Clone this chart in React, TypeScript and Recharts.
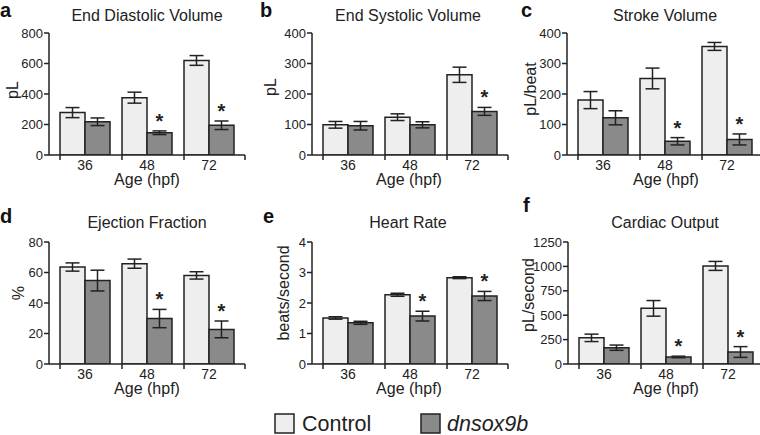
import React from 'react';
import { BarChart, Bar, XAxis, YAxis, ErrorBar, LabelList } from 'recharts';

// ---------- data ----------
const ages = ['36', '48', '72'];

const edvControl = [278, 376, 620];
const edvControlErr = [33, 36, 32];
const edvDn = [218, 146, 195];
const edvDnErr = [25, 12, 28];
const edvSig = [false, true, true];
const edvTicks = [0, 200, 400, 600, 800];

const esvControl = [99, 124, 263];
const esvControlErr = [11, 11, 25];
const esvDn = [96, 99, 143];
const esvDnErr = [14, 10, 13];
const esvSig = [false, false, true];
const esvTicks = [0, 100, 200, 300, 400];

const svControl = [180, 251, 356];
const svControlErr = [28, 34, 13];
const svDn = [122, 45, 51];
const svDnErr = [23, 12, 18];
const svSig = [false, true, true];
const svTicks = [0, 100, 200, 300, 400];

const efControl = [63.6, 65.8, 58.1];
const efControlErr = [2.7, 3, 2.4];
const efDn = [54.7, 29.8, 22.7];
const efDnErr = [6.8, 6, 5.5];
const efSig = [false, true, true];
const efTicks = [0, 20, 40, 60, 80];

const hrControl = [1.51, 2.27, 2.83];
const hrControlErr = [0.04, 0.05, 0.03];
const hrDn = [1.35, 1.57, 2.23];
const hrDnErr = [0.05, 0.16, 0.15];
const hrSig = [false, true, true];
const hrTicks = [0, 1, 2, 3, 4];

const coControl = [268, 570, 1005];
const coControlErr = [38, 80, 46];
const coDn = [167, 72, 123];
const coDnErr = [27, 8, 55];
const coSig = [false, true, true];
const coTicks = [0, 250, 500, 750, 1000, 1250];

// ---------- style constants ----------
const FONT = '"Liberation Sans", Arial, Helvetica, sans-serif';
const INK = '#222222';
const CTRL_FILL = '#eeeeee';
const DN_FILL = '#8a8a8a';
const BAR = 25;
const PAD = 5;
const PLOT_W = 196;
const CHART_H = 195;
const TOP_M = 33;
const XAXIS_H = 40;

const XTick = (props: any) => {
  const { x, y, payload, index } = props;
  const half = (PLOT_W - 2 * PAD) / ages.length / 2;
  return (
    <g>
      <line x1={x - BAR} x2={x - BAR} y1={y} y2={y + 5} stroke={INK} strokeWidth={1.5} />
      {index === ages.length - 1 && (
        <line x1={x + half + PAD} x2={x + half + PAD} y1={y} y2={y + 5} stroke={INK} strokeWidth={1.5} />
      )}
      <text x={x} y={y + 14.5} textAnchor="middle" fontSize={14} fill={INK} fontFamily={FONT}>
        {payload.value}
      </text>
    </g>
  );
};

type PanelProps = {
  left: number;
  top: number;
  yAxisWidth: number;
  ticks: number[];
  ctrl: number[];
  ctrlErr: number[];
  dn: number[];
  dnErr: number[];
  sig: boolean[];
};

function Panel(p: PanelProps) {
  const data = ages.map((age, i) => ({
    age,
    ctrl: p.ctrl[i],
    ctrlErr: p.ctrlErr[i],
    dn: p.dn[i],
    dnErr: p.dnErr[i],
  }));
  const width = p.yAxisWidth + PLOT_W + 2;

  const starContent = (props: any) => {
    const vb = props.viewBox || props;
    const x = vb.x ?? props.x;
    const y = vb.y ?? props.y;
    const w = vb.width ?? props.width;
    const hh = vb.height ?? props.height ?? 0;
    const h = Math.abs(hh);
    const i = props.index;
    if (!p.sig[i]) return null;
    const v = p.dn[i];
    const errPx = (p.dnErr[i] * h) / v;
    const top = Math.min(y, y + hh);
    return (
      <text x={x + w / 2} y={top - errPx - 3} textAnchor="middle" fontSize={20} fontWeight="bold" fill={INK} fontFamily={FONT}>
        *
      </text>
    );
  };

  return (
    <div style={{ position: 'absolute', left: p.left, top: p.top }}>
      <BarChart
        width={width}
        height={CHART_H}
        data={data}
        margin={{ top: TOP_M, right: 2, left: 0, bottom: 0 }}
        barSize={BAR}
        barGap={0}
      >
        <XAxis
          dataKey="age"
          height={XAXIS_H}
          padding={{ left: PAD, right: PAD }}
          tickLine={false}
          tickSize={0}
          tickMargin={0}
          interval={0}
          axisLine={{ stroke: INK, strokeWidth: 1.5 }}
          tick={<XTick />}
        />
        <YAxis
          width={p.yAxisWidth}
          domain={[p.ticks[0], p.ticks[p.ticks.length - 1]]}
          ticks={p.ticks}
          interval={0}
          tickSize={5}
          tickMargin={1}
          allowDataOverflow
          axisLine={{ stroke: INK, strokeWidth: 1.5 }}
          tickLine={{ stroke: INK, strokeWidth: 1.5 }}
          tick={{ fill: INK, fontSize: 13, fontFamily: FONT }}
        />
        <Bar dataKey="ctrl" fill={CTRL_FILL} stroke={INK} strokeWidth={1.5} isAnimationActive={false}>
          <ErrorBar dataKey="ctrlErr" width={7} stroke={INK} strokeWidth={1.5} isAnimationActive={false} />
        </Bar>
        <Bar dataKey="dn" fill={DN_FILL} stroke={INK} strokeWidth={1.5} isAnimationActive={false}>
          <ErrorBar dataKey="dnErr" width={7} stroke={INK} strokeWidth={1.5} isAnimationActive={false} />
          <LabelList dataKey="dn" content={starContent} />
        </Bar>
      </BarChart>
    </div>
  );
}

const YLabel = ({ x, y, text }: { x: number; y: number; text: string }) => (
  <text
    x={x}
    y={y}
    transform={`rotate(-90 ${x} ${y})`}
    textAnchor="middle"
    dominantBaseline="central"
    fontSize={16}
    fill={INK}
  >
    {text}
  </text>
);

export default function App() {
  const row1 = 0;
  const row2 = 209;
  return (
    <div
      style={{
        position: 'absolute',
        left: 0,
        top: 0,
        width: 760,
        height: 435,
        background: '#ffffff',
        fontFamily: FONT,
        overflow: 'hidden',
      }}
    >
      <Panel left={0} top={row1} yAxisWidth={49} ticks={edvTicks}
        ctrl={edvControl} ctrlErr={edvControlErr} dn={edvDn} dnErr={edvDnErr} sig={edvSig} />
      <Panel left={250} top={row1} yAxisWidth={62} ticks={esvTicks}
        ctrl={esvControl} ctrlErr={esvControlErr} dn={esvDn} dnErr={esvDnErr} sig={esvSig} />
      <Panel left={500} top={row1} yAxisWidth={67} ticks={svTicks}
        ctrl={svControl} ctrlErr={svControlErr} dn={svDn} dnErr={svDnErr} sig={svSig} />
      <Panel left={0} top={row2} yAxisWidth={49} ticks={efTicks}
        ctrl={efControl} ctrlErr={efControlErr} dn={efDn} dnErr={efDnErr} sig={efSig} />
      <Panel left={250} top={row2} yAxisWidth={62} ticks={hrTicks}
        ctrl={hrControl} ctrlErr={hrControlErr} dn={hrDn} dnErr={hrDnErr} sig={hrSig} />
      <Panel left={500} top={row2} yAxisWidth={68} ticks={coTicks}
        ctrl={coControl} ctrlErr={coControlErr} dn={coDn} dnErr={coDnErr} sig={coSig} />

      <svg
        width={760}
        height={435}
        style={{ position: 'absolute', left: 0, top: 0, pointerEvents: 'none' }}
        fontFamily={FONT}
      >
        <g fontSize={20} fontWeight="bold" fill="#111">
          <text x={0} y={17}>a</text>
          <text x={260} y={17}>b</text>
          <text x={521} y={17}>c</text>
          <text x={0} y={223}>d</text>
          <text x={263} y={223}>e</text>
          <text x={523} y={212}>f</text>
        </g>
        <g fontSize={16} fill={INK} textAnchor="middle">
          <text x={147} y={21}>End Diastolic Volume</text>
          <text x={408} y={21}>End Systolic Volume</text>
          <text x={665} y={21}>Stroke Volume</text>
          <text x={147} y={228}>Ejection Fraction</text>
          <text x={408} y={228}>Heart Rate</text>
          <text x={665} y={228}>Cardiac Output</text>
          <text x={147} y={185}>Age (hpf)</text>
          <text x={409} y={185}>Age (hpf)</text>
          <text x={666} y={185}>Age (hpf)</text>
          <text x={147} y={394}>Age (hpf)</text>
          <text x={409} y={394}>Age (hpf)</text>
          <text x={666} y={394}>Age (hpf)</text>
        </g>
        <YLabel x={12} y={90} text="pL" />
        <YLabel x={270} y={87} text="pL" />
        <YLabel x={530} y={89} text="pL/beat" />
        <YLabel x={18} y={293} text="%" />
        <YLabel x={283} y={293} text="beats/second" />
        <YLabel x={528} y={295} text="pL/second" />
        <g>
          <rect x={275} y={414} width={19} height={19} fill={CTRL_FILL} stroke={INK} strokeWidth={1.5} />
          <text x={302} y={431} fontSize={21.5} fill={INK}>Control</text>
          <rect x={421} y={414} width={19} height={19} fill={DN_FILL} stroke={INK} strokeWidth={1.5} />
          <text x={447} y={431} fontSize={21.5} fill={INK} fontStyle="italic">dnsox9b</text>
        </g>
      </svg>
    </div>
  );
}
